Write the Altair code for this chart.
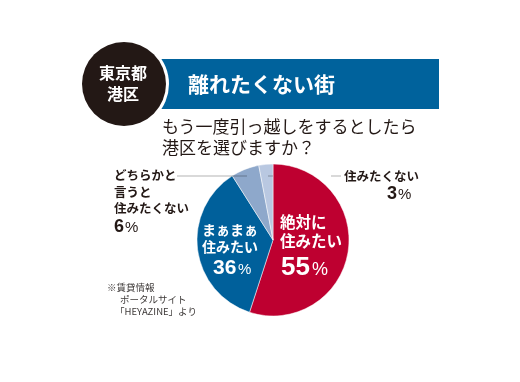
import altair as alt
import pandas as pd

# ---- data ----
categories = ["絶対に住みたい", "まぁまぁ住みたい", "どちらかと言うと住みたくない", "住みたくない"]
values = [55, 36, 6, 3]
slice_colors = ["#be0030", "#00609b", "#8ea8cb", "#b9c8e1"]
badge_lines = ["東京都", "港区"]
title_text = "離れたくない街"
question_lines = ["もう一度引っ越しをするとしたら", "港区を選びますか？"]
label_lines = [["絶対に", "住みたい"], ["まぁまぁ", "住みたい"],
               ["どちらかと", "言うと", "住みたくない"], ["住みたくない"]]
source_lines = ["※賃貸情報", "ポータルサイト", "「HEYAZINE」より"]

W, H = 504, 360
OFF = 8
JP = "Noto Sans CJK JP"
NUM = "Liberation Sans"
INK = "#231815"
BLUE = "#00629c"
NOTE = "#3e3a39"

one = alt.Data(values=[{}])


def txt(s, x, y, size, weight="normal", color=INK, align="left",
        baseline="alphabetic", font=JP, lh=None):
    kw = dict(text=s, fontSize=size, fontWeight=weight, color=color, align=align,
              baseline=baseline, font=font)
    if lh is not None:
        kw["lineHeight"] = lh
    return alt.Chart(one).mark_text(**kw).encode(x=alt.value(x - OFF), y=alt.value(y - OFF))


def rule(x1, x2, y, color="#b3b3b3", multiply=False):
    kw = dict(color=color, strokeWidth=1)
    if multiply:
        kw["blend"] = "multiply"
    return alt.Chart(one).mark_rule(**kw).encode(
        x=alt.value(x1 - OFF), x2=alt.value(x2 - OFF), y=alt.value(y - OFF))


layers = []

# banner
layers.append(alt.Chart(one).mark_rect(color=BLUE).encode(
    x=alt.value(140 - OFF), x2=alt.value(439 - OFF),
    y=alt.value(59 - OFF), y2=alt.value(109 - OFF)))

# badge circle (white ring then black disc)
layers.append(alt.Chart(one).mark_circle(color="white", opacity=1, size=90 * 90).encode(
    x=alt.value(124 - OFF), y=alt.value(84 - OFF)))
layers.append(alt.Chart(one).mark_circle(color=INK, opacity=1, size=84 * 84).encode(
    x=alt.value(124 - OFF), y=alt.value(84 - OFF)))

layers.append(txt(badge_lines, 123, 79, 16, "bold", "white", "center", lh=21))
layers.append(txt(title_text, 188, 92, 21, "bold", "white"))

# question
layers.append(txt(question_lines, 162, 133, 17, lh=21))

# pie
df = pd.DataFrame({"category": categories, "value": values, "order": list(range(len(values)))})
layers.append(alt.Chart(df).mark_arc(outerRadius=76, stroke="white", strokeWidth=0.5).encode(
    theta=alt.Theta("value:Q", stack=True),
    color=alt.Color("category:N", scale=alt.Scale(domain=categories, range=slice_colors), legend=None),
    order=alt.Order("order:Q"),
    x=alt.value(273 - OFF), y=alt.value(240 - OFF)))

# leader lines
layers.append(rule(177, 247, 176, multiply=True))
layers.append(rule(268, 273, 176, multiply=True))
layers.append(rule(331, 341, 176))

# labels inside red slice
layers.append(txt(label_lines[0], 280, 228, 15.5, "bold", "white", lh=19))
layers.append(txt(str(values[0]), 281, 275, 26, "bold", "white", font=NUM))
layers.append(txt("%", 312, 275, 18, "normal", "white", font=NUM))

# labels inside blue slice
layers.append(txt(label_lines[1], 202, 235, 14, "bold", "white", lh=17))
layers.append(txt(str(values[1]), 213, 274, 21, "bold", "white", font=NUM))
layers.append(txt("%", 238, 274, 15, "normal", "white", font=NUM))

# left label
layers.append(txt(label_lines[2], 114, 180, 12.5, "bold", lh=16.5))
layers.append(txt(str(values[2]), 114, 232, 18, "bold", font=NUM))
layers.append(txt("%", 125, 232, 15, "normal", font=NUM))

# right label
layers.append(txt(label_lines[3][0], 344, 181, 12.5, "bold"))
layers.append(txt(str(values[3]), 387, 199, 18, "bold", font=NUM))
layers.append(txt("%", 398, 199, 15, "normal", font=NUM))

# source note
layers.append(txt(source_lines[0], 107, 291, 9.5, color=NOTE))
layers.append(txt(source_lines[1], 120, 303, 9.5, color=NOTE))
layers.append(txt(source_lines[2], 115, 315, 9.5, color=NOTE))

chart = alt.layer(*layers).properties(
    width=W, height=H, autosize="none", padding=0
).configure_view(strokeWidth=0)

chart.save("out.html", embed_options={"renderer": "svg", "actions": False})
